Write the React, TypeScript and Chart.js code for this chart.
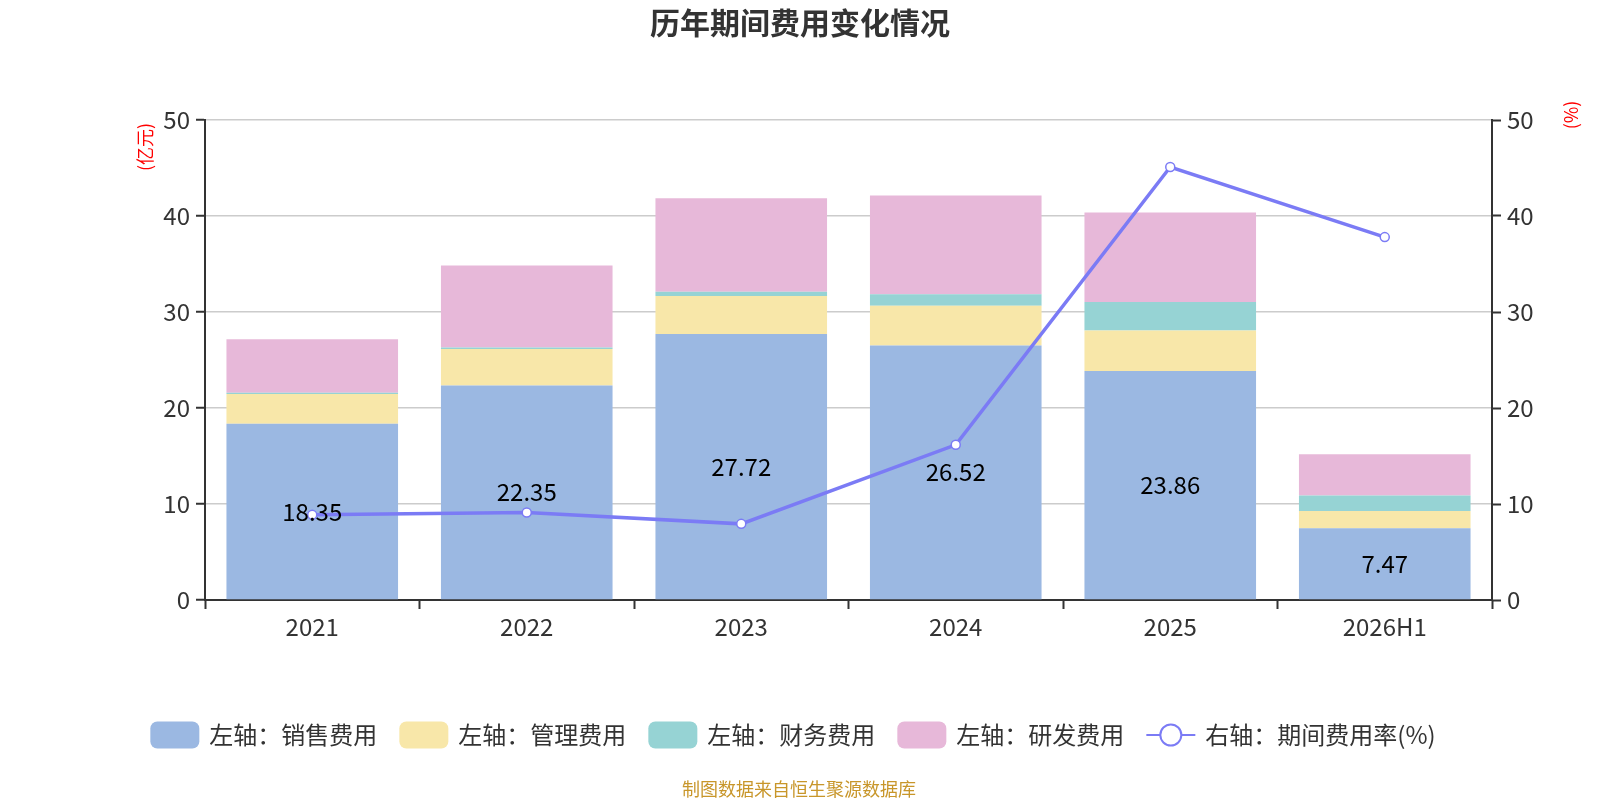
import { useEffect, useRef } from 'react';
import { Chart, registerables } from 'chart.js';

Chart.register(...registerables);

const years = ['2021', '2022', '2023', '2024', '2025', '2026H1'];
const salesCost = [18.35, 22.35, 27.72, 26.52, 23.86, 7.47];
const adminCost = [3.1, 3.8, 3.95, 4.14, 4.2, 1.81];
const financeCost = [0.15, 0.14, 0.45, 1.18, 2.99, 1.6];
const rdCost = [5.56, 8.55, 9.74, 10.29, 9.32, 4.31];
const costRate = [8.87, 9.11, 7.93, 16.17, 45.1, 37.8];
const yTicks = [0, 10, 20, 30, 40, 50];

const FONT = '"Noto Sans CJK SC", "Noto Sans", sans-serif';
const COLORS = ['#9bb8e2', '#f8e7a9', '#96d3d4', '#e7b8d9'];
const LINE_COLOR = '#7b7bf5';

const legendItems = [
  { text: '左轴：销售费用', color: COLORS[0], line: false },
  { text: '左轴：管理费用', color: COLORS[1], line: false },
  { text: '左轴：财务费用', color: COLORS[2], line: false },
  { text: '左轴：研发费用', color: COLORS[3], line: false },
  { text: '右轴：期间费用率(%)', color: LINE_COLOR, line: true },
];

// 标题、轴单位、图例、数据标签、来源
const decorPlugin = {
  id: 'decor',
  afterDraw(chart: any) {
    const ctx = chart.ctx;
    ctx.save();

    ctx.fillStyle = '#333';
    ctx.font = `bold 30px ${FONT}`;
    ctx.textAlign = 'center';
    ctx.textBaseline = 'middle';
    ctx.fillText('历年期间费用变化情况', 800, 23);

    // 销售费用数值（柱子中间）
    const meta = chart.getDatasetMeta(1);
    ctx.fillStyle = '#000';
    ctx.font = `24px ${FONT}`;
    meta.data.forEach((bar: any, i: number) => {
      ctx.fillText(salesCost[i].toFixed(2), bar.x, (bar.y + bar.base) / 2);
    });

    // 轴单位
    ctx.fillStyle = '#ff0000';
    ctx.font = `18px ${FONT}`;
    ctx.save();
    ctx.translate(145, 147);
    ctx.rotate(-Math.PI / 2);
    ctx.fillText('(亿元)', 0, 0);
    ctx.restore();
    ctx.save();
    ctx.translate(1571, 115);
    ctx.rotate(-Math.PI / 2);
    ctx.fillText('(%)', 0, 0);
    ctx.restore();

    // 图例
    ctx.font = `24px ${FONT}`;
    const boxW = 49;
    const gap = 10;
    const itemGap = 22;
    const widths = legendItems.map((it) => boxW + gap + ctx.measureText(it.text).width);
    const total = widths.reduce((a, b) => a + b, 0) + itemGap * (legendItems.length - 1);
    let x = 793 - total / 2;
    const ly = 735;
    legendItems.forEach((it, i) => {
      if (it.line) {
        ctx.strokeStyle = it.color;
        ctx.lineWidth = 2;
        ctx.beginPath();
        ctx.moveTo(x, ly);
        ctx.lineTo(x + boxW, ly);
        ctx.stroke();
        ctx.beginPath();
        ctx.arc(x + boxW / 2, ly, 10.5, 0, Math.PI * 2);
        ctx.fillStyle = '#fff';
        ctx.fill();
        ctx.stroke();
      } else {
        ctx.fillStyle = it.color;
        ctx.beginPath();
        ctx.roundRect(x, ly - 13.5, boxW, 27, 7);
        ctx.fill();
      }
      ctx.fillStyle = '#333';
      ctx.textAlign = 'left';
      ctx.fillText(it.text, x + boxW + gap, ly);
      x += widths[i] + itemGap;
    });

    ctx.fillStyle = '#c8962a';
    ctx.font = `18px ${FONT}`;
    ctx.textAlign = 'center';
    ctx.fillText('制图数据来自恒生聚源数据库', 799, 789);

    ctx.restore();
  },
};

export default function App() {
  const chartRef = useRef<HTMLCanvasElement>(null);

  useEffect(() => {
    document.body.style.margin = '0';
    if (!chartRef.current) return;

    const barNames = ['左轴：销售费用', '左轴：管理费用', '左轴：财务费用', '左轴：研发费用'];
    const barData = [salesCost, adminCost, financeCost, rdCost];
    const tickFont = { size: 24, family: FONT };

    const chart = new Chart(chartRef.current, {
      type: 'bar',
      data: {
        labels: years,
        datasets: [
          {
            type: 'line',
            label: '右轴：期间费用率(%)',
            data: costRate,
            yAxisID: 'y1',
            borderColor: LINE_COLOR,
            borderWidth: 3.5,
            pointRadius: 4.5,
            pointBackgroundColor: '#fff',
            pointBorderColor: LINE_COLOR,
            pointBorderWidth: 1.5,
            order: 0,
          } as any,
          ...barNames.map((name, i) => ({
            type: 'bar' as const,
            label: name,
            data: barData[i],
            backgroundColor: COLORS[i],
            yAxisID: 'y',
            stack: 'cost',
            barPercentage: 0.8,
            categoryPercentage: 1,
            order: 1,
          })),
        ],
      },
      options: {
        animation: false,
        responsive: true,
        maintainAspectRatio: false,
        layout: { padding: { top: 120, left: 0, right: 0, bottom: 0 } },
        plugins: {
          legend: { display: false },
          title: { display: false },
          tooltip: { enabled: false },
        },
        scales: {
          x: {
            stacked: true,
            afterFit: (s: any) => { s.height = 200; },
            grid: {
              offset: true,
              drawOnChartArea: false,
              tickLength: 9,
              tickColor: '#333',
              tickWidth: 2,
            },
            border: { color: '#333', width: 2 },
            ticks: { color: '#333', font: tickFont, padding: 3 },
          },
          y: {
            stacked: true,
            min: 0,
            max: 50,
            afterFit: (s: any) => { s.width = 205; },
            afterBuildTicks: (s: any) => { s.ticks = yTicks.map((v) => ({ value: v })); },
            grid: { color: '#cccccc', lineWidth: 1.5, tickLength: 9, tickColor: '#333', tickWidth: 2 },
            border: { color: '#333', width: 2 },
            ticks: { color: '#333', font: tickFont, padding: 6 },
          },
          y1: {
            position: 'right',
            min: 0,
            max: 50,
            afterFit: (s: any) => { s.width = 108; },
            afterBuildTicks: (s: any) => { s.ticks = yTicks.map((v) => ({ value: v })); },
            grid: { drawOnChartArea: false, tickLength: 9, tickColor: '#333', tickWidth: 2 },
            border: { color: '#333', width: 2 },
            ticks: { color: '#333', font: tickFont, padding: 6 },
          },
        },
      },
      plugins: [decorPlugin],
    });

    return () => chart.destroy();
  }, []);

  return (
    <div style={{ width: 1600, height: 800, position: 'relative', background: '#fff' }}>
      <canvas ref={chartRef} />
    </div>
  );
}
